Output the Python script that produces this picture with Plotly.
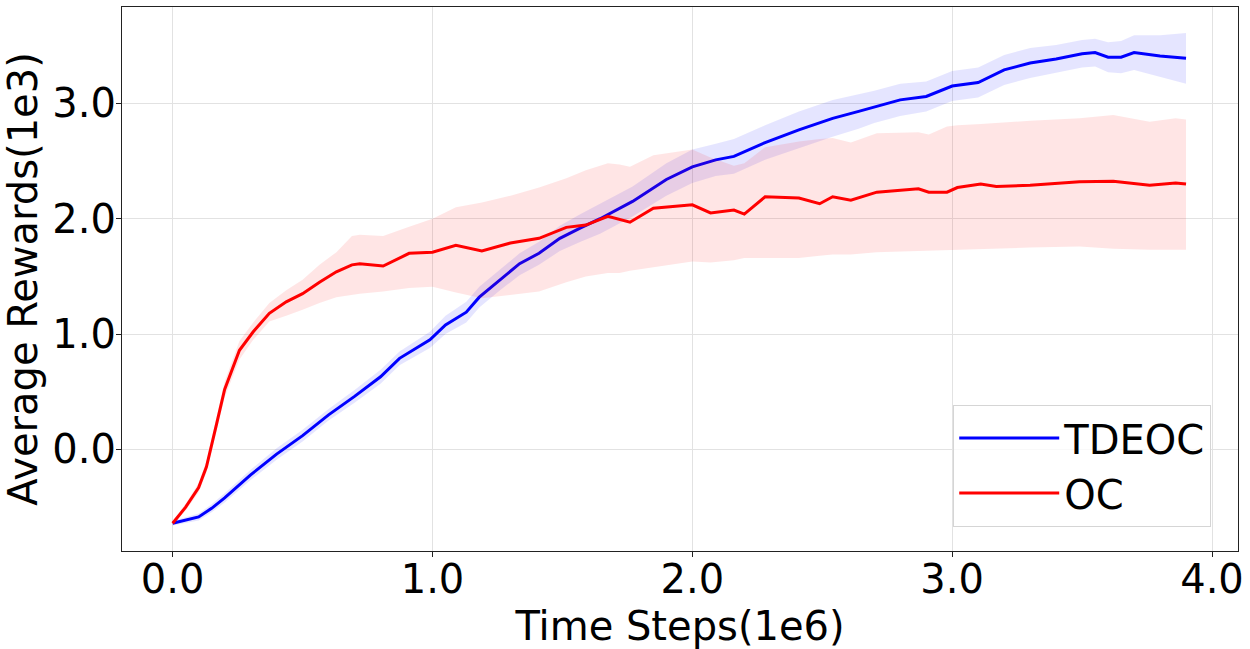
import plotly.graph_objects as go

# ---------------- data (x in 1e6 steps, y in 1e3 rewards) ----------------
tdeoc_x = [0.0, 0.05, 0.1, 0.15, 0.2, 0.3, 0.4, 0.5, 0.6, 0.7, 0.8, 0.873, 0.99, 1.05,
           1.13, 1.18, 1.26, 1.335, 1.41, 1.49, 1.57, 1.645, 1.77, 1.9, 2.0, 2.09, 2.16,
           2.28, 2.41, 2.54, 2.64, 2.7, 2.8, 2.9, 3.0, 3.1, 3.2, 3.3, 3.4, 3.5, 3.55, 3.6,
           3.65, 3.7, 3.8, 3.9]
tdeoc_mean = [-0.64, -0.61, -0.585, -0.51, -0.42, -0.22, -0.04, 0.12, 0.30, 0.46, 0.63, 0.79,
              0.95, 1.08, 1.19, 1.32, 1.47, 1.61, 1.70, 1.83, 1.92, 2.00, 2.15, 2.34, 2.45,
              2.51, 2.54, 2.66, 2.77, 2.87, 2.93, 2.97, 3.03, 3.06, 3.15, 3.18, 3.29, 3.35,
              3.385, 3.43, 3.44, 3.40, 3.40, 3.44, 3.41, 3.39]
tdeoc_upper = [-0.62, -0.585, -0.555, -0.475, -0.38, -0.175, 0.01, 0.17, 0.35, 0.515, 0.69, 0.85,
               1.02, 1.16, 1.28, 1.41, 1.56, 1.70, 1.80, 1.94, 2.04, 2.13, 2.28, 2.48, 2.60,
               2.65, 2.69, 2.81, 2.93, 3.03, 3.08, 3.11, 3.17, 3.19, 3.28, 3.31, 3.42, 3.48,
               3.505, 3.55, 3.56, 3.53, 3.54, 3.59, 3.59, 3.61]
tdeoc_lower = [-0.66, -0.635, -0.615, -0.545, -0.46, -0.265, -0.09, 0.07, 0.25, 0.405, 0.57, 0.73,
               0.88, 1.00, 1.10, 1.23, 1.38, 1.51, 1.60, 1.72, 1.80, 1.87, 2.02, 2.20, 2.31,
               2.37, 2.39, 2.51, 2.61, 2.71, 2.78, 2.83, 2.89, 2.93, 3.02, 3.05, 3.16, 3.22,
               3.265, 3.31, 3.32, 3.27, 3.26, 3.29, 3.23, 3.17]

oc_x = [0.0, 0.05, 0.1, 0.13, 0.17, 0.2, 0.257, 0.31, 0.372, 0.437, 0.5, 0.565, 0.63, 0.69,
        0.72, 0.81, 0.91, 1.0, 1.09, 1.19, 1.3, 1.41, 1.515, 1.59, 1.675, 1.72, 1.76, 1.85,
        2.0, 2.07, 2.16, 2.2, 2.28, 2.41, 2.49, 2.54, 2.61, 2.71, 2.87, 2.91, 2.98, 3.02,
        3.11, 3.17, 3.3, 3.49, 3.62, 3.76, 3.86, 3.9]
oc_mean = [-0.64, -0.50, -0.33, -0.15, 0.23, 0.52, 0.86, 1.02, 1.18, 1.28, 1.35, 1.45, 1.54,
           1.60, 1.61, 1.59, 1.70, 1.71, 1.77, 1.72, 1.79, 1.83, 1.925, 1.945, 2.02, 1.99,
           1.97, 2.09, 2.12, 2.05, 2.075, 2.04, 2.19, 2.18, 2.13, 2.19, 2.16, 2.23, 2.26,
           2.23, 2.23, 2.27, 2.30, 2.28, 2.29, 2.32, 2.325, 2.29, 2.31, 2.30]
oc_upper = [-0.62, -0.47, -0.29, -0.10, 0.29, 0.59, 0.94, 1.10, 1.27, 1.38, 1.47, 1.60, 1.71,
            1.85, 1.86, 1.85, 1.93, 2.00, 2.10, 2.14, 2.20, 2.27, 2.35, 2.42, 2.48, 2.47,
            2.45, 2.55, 2.60, 2.53, 2.46, 2.48, 2.62, 2.67, 2.69, 2.70, 2.66, 2.74, 2.75,
            2.73, 2.80, 2.81, 2.82, 2.83, 2.85, 2.87, 2.90, 2.84, 2.87, 2.86]
oc_lower = [-0.66, -0.53, -0.37, -0.20, 0.17, 0.45, 0.78, 0.95, 1.11, 1.16, 1.21, 1.27, 1.32,
            1.34, 1.35, 1.37, 1.40, 1.41, 1.36, 1.31, 1.34, 1.37, 1.45, 1.50, 1.53, 1.53,
            1.55, 1.58, 1.63, 1.62, 1.64, 1.66, 1.66, 1.66, 1.68, 1.69, 1.69, 1.71, 1.72,
            1.72, 1.73, 1.73, 1.74, 1.74, 1.75, 1.76, 1.74, 1.73, 1.73, 1.73]

x_ticks = [0.0, 1.0, 2.0, 3.0, 4.0]
y_ticks = [0.0, 1.0, 2.0, 3.0]
tick_fmt = "{:.1f}"

FONT = "DejaVu Sans"
FS = 40
fig = go.Figure()


def band(x, up, lo, color):
    fig.add_trace(go.Scatter(
        x=list(x) + list(x)[::-1], y=list(up) + list(lo)[::-1],
        fill="toself", fillcolor=color, line=dict(width=0),
        hoverinfo="skip", showlegend=False, mode="lines"))


band(tdeoc_x, tdeoc_upper, tdeoc_lower, "rgba(0,0,255,0.1)")
fig.add_trace(go.Scatter(x=tdeoc_x, y=tdeoc_mean, mode="lines", name="TDEOC",
                         line=dict(color="#0000ff", width=3)))
band(oc_x, oc_upper, oc_lower, "rgba(255,0,0,0.1)")
fig.add_trace(go.Scatter(x=oc_x, y=oc_mean, mode="lines", name="OC",
                         line=dict(color="#ff0000", width=3)))

axis_common = dict(
    showline=True, linecolor="#222222", linewidth=1.2, mirror=True,
    showgrid=True, gridcolor="#e2e2e2", gridwidth=1,
    ticks="outside", ticklen=5, tickcolor="#222222", tickwidth=1.2,
    tickfont=dict(family=FONT, size=FS, color="black"),
    zeroline=False, automargin=False,
)

fig.update_layout(
    width=1250, height=649,
    margin=dict(l=122, r=12, t=7, b=98),
    paper_bgcolor="white", plot_bgcolor="white",
    font=dict(family=FONT, color="black"),
    xaxis=dict(range=[-0.195, 4.1], tickvals=x_ticks,
               ticktext=[tick_fmt.format(v) for v in x_ticks],
               ticklabelstandoff=-12,
               title=dict(text="Time Steps(1e6)", font=dict(family=FONT, size=FS)),
               **axis_common),
    yaxis=dict(range=[-0.88, 3.835], tickvals=y_ticks,
               ticktext=[tick_fmt.format(v) for v in y_ticks],
               ticklabelstandoff=-8,
               title=dict(text="Average Rewards(1e3)", font=dict(family=FONT, size=FS)),
               **axis_common),
    legend=dict(x=0.976, y=0.045, xanchor="right", yanchor="bottom",
                bgcolor="rgba(255,255,255,0.8)", bordercolor="#d5d5d5", borderwidth=1,
                font=dict(family=FONT, size=FS, color="black"),
                itemwidth=100, tracegroupgap=0),
    showlegend=True,
)

fig.write_html("out.html")
